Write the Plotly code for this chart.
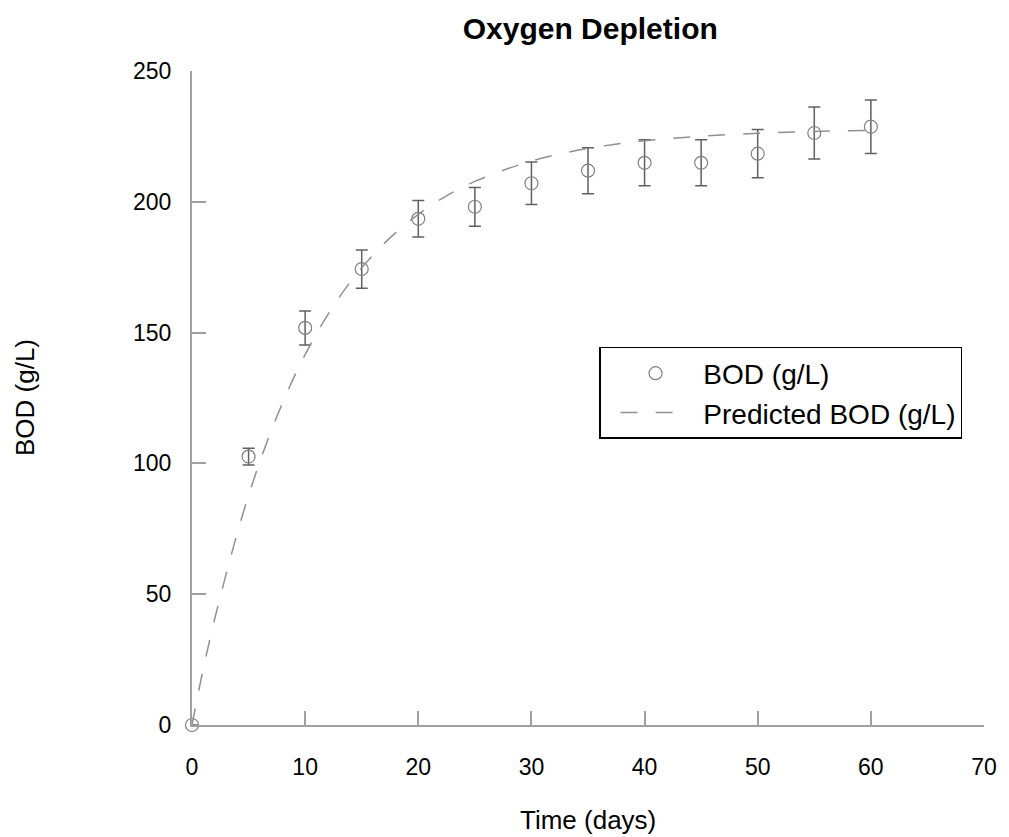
import plotly.graph_objects as go

days = [0, 5, 10, 15, 20, 25, 30, 35, 40, 45, 50, 55, 60]
bod = [0, 102.6, 151.8, 174.3, 193.5, 198.1, 207.1, 211.9, 214.9, 214.9, 218.4, 226.3, 228.7]
bod_err = [0, 3.2, 6.5, 7.3, 7.0, 7.4, 8.1, 8.8, 8.8, 8.8, 9.2, 9.9, 10.2]

# predicted curve, points
pred_days = [0, 1, 2.5, 5, 7.5, 10, 12.5, 15, 17.5, 20, 22.5, 25, 30, 35, 40, 45, 50, 55, 60]
pred_bod = [0, 21.5, 49.1, 87.8, 117.9, 141.6, 160.2, 174.8, 186.2, 195.2, 202.3, 207.8,
            215.6, 220.4, 223.3, 225.1, 226.2, 226.9, 227.3]

font = "Liberation Sans, Arial, sans-serif"
axis_grey = "#a0a0a0"
gap = "\u00a0"  # small gap between legend symbol and text

trace_obs = go.Scatter(
    x=days, y=bod,
    mode="markers",
    name=gap + "BOD (g/L)",
    marker=dict(symbol="circle-open", size=13, color="#808080", line=dict(width=1.2)),
    error_y=dict(type="data", array=bod_err, visible=True, color="#606060", thickness=1.5, width=6),
    cliponaxis=False,
)
trace_pred = go.Scatter(
    x=pred_days, y=pred_bod,
    mode="lines",
    name=gap + "Predicted BOD (g/L)",
    line=dict(color="#909090", width=1.5, dash="17px,18px", shape="spline"),
)

layout = go.Layout(
    width=1009, height=837,
    margin=dict(l=192, r=17, t=71, b=112),
    paper_bgcolor="white", plot_bgcolor="white",
    font=dict(family=font, color="black", size=23),
    title=dict(text="<b>Oxygen Depletion</b>", x=0.585, xanchor="center", y=0.966, yanchor="middle",
               font=dict(family=font, size=30, color="black")),
    xaxis=dict(range=[0, 70], tickvals=[0, 10, 20, 30, 40, 50, 60, 70],
               showline=True, linecolor=axis_grey, linewidth=2,
               ticks="inside", ticklen=14, tickwidth=1.5, tickcolor=axis_grey,
               showgrid=False, zeroline=False, ticklabelstandoff=20),
    yaxis=dict(range=[0, 250], tickvals=[0, 50, 100, 150, 200, 250],
               showline=True, linecolor=axis_grey, linewidth=2,
               ticks="inside", ticklen=14, tickwidth=1.5, tickcolor=axis_grey,
               showgrid=False, zeroline=False, ticklabelstandoff=14),
    showlegend=True,
    legend=dict(x=0.514, y=0.578, xanchor="left", yanchor="top",
                bordercolor="black", borderwidth=1.5, bgcolor="white",
                font=dict(family=font, size=28), itemwidth=70, indentation=15),
    annotations=[
        dict(text="Time (days)", xref="paper", yref="paper", x=0.5, y=0, yshift=-95,
             xanchor="center", yanchor="middle", showarrow=False, font=dict(family=font, size=26)),
        dict(text="BOD (g/L)", xref="paper", yref="paper", x=0, y=0.5, xshift=-167,
             xanchor="center", yanchor="middle", textangle=-90, showarrow=False,
             font=dict(family=font, size=26)),
    ],
)

fig = go.Figure(data=[trace_obs, trace_pred], layout=layout)
fig.write_html("out.html", config={"displayModeBar": False},
               post_script="document.body.style.margin='0';document.body.style.overflow='hidden';")
